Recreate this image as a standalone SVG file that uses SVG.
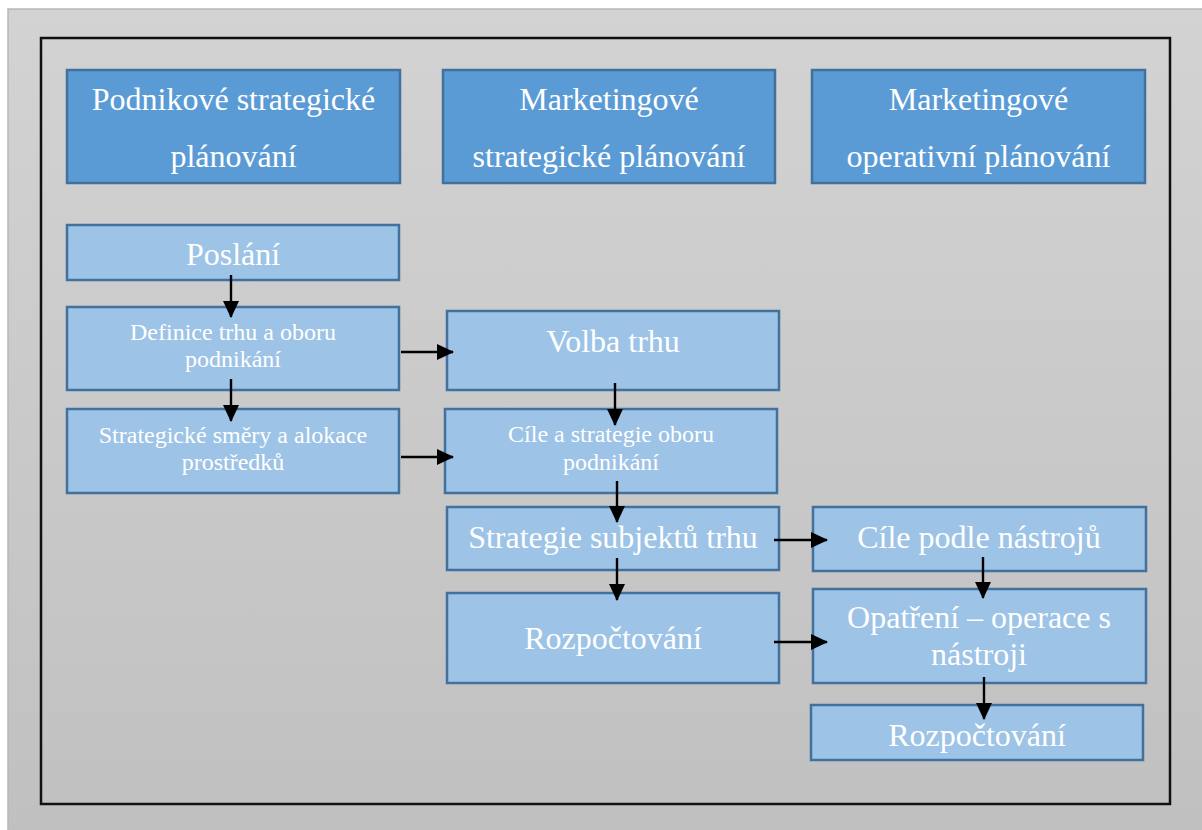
<svg xmlns="http://www.w3.org/2000/svg" width="1202" height="830" viewBox="0 0 1202 830">
<defs>
<linearGradient id="bg" x1="0" y1="0" x2="0" y2="1">
<stop offset="0" stop-color="#d3d3d3"/>
<stop offset="1" stop-color="#c0c0c0"/>
</linearGradient>
<marker id="ah" markerUnits="userSpaceOnUse" markerWidth="17" markerHeight="16" viewBox="0 0 17 16" refX="16" refY="8" orient="auto">
<path d="M0,0 L17,8 L0,16 Z" fill="#000"/>
</marker>
<clipPath id="clipR"><rect x="812" y="706" width="330" height="53"/></clipPath>
<style>
.hdr{fill:#5b9bd5;stroke:#41719c;stroke-width:2.5}
.box{fill:#9dc3e6;stroke:#41719c;stroke-width:2.5}
.t{font-family:"Liberation Serif","Times New Roman",serif;fill:#fff;text-anchor:middle}
.big{font-size:32px}
.sm{font-size:24px}
.c{stroke:#000;stroke-width:2.4;fill:none;marker-end:url(#ah)}
</style>
</defs>
<rect x="0" y="0" width="1202" height="830" fill="#fff"/>
<rect x="8" y="9" width="1200" height="830" fill="url(#bg)" stroke="#b8b8b8" stroke-width="1.5"/>
<rect x="41" y="38" width="1129" height="766" fill="none" stroke="#111" stroke-width="2.5"/>

<g id="h1"><rect class="hdr" x="67" y="70" width="333" height="113"/>
<text class="t big" x="233.5" y="110">Podnikové strategické</text>
<text class="t big" x="233.5" y="167">plánování</text></g>
<g id="h2"><rect class="hdr" x="443" y="70" width="332" height="113"/>
<text class="t big" x="609" y="110">Marketingové</text>
<text class="t big" x="609" y="167">strategické plánování</text></g>
<g id="h3"><rect class="hdr" x="812" y="70" width="333" height="113"/>
<text class="t big" x="978.5" y="110">Marketingové</text>
<text class="t big" x="978.5" y="167">operativní plánování</text></g>

<g id="poslani"><rect class="box" x="67" y="225" width="332" height="55"/>
<text class="t big" x="233" y="265">Poslání</text></g>
<g id="definice"><rect class="box" x="67" y="307" width="332" height="83"/>
<text class="t sm" x="233" y="340">Definice trhu a oboru</text>
<text class="t sm" x="233" y="367">podnikání</text></g>
<g id="smery"><rect class="box" x="67" y="409" width="332" height="84"/>
<text class="t sm" x="233" y="443">Strategické směry a alokace</text>
<text class="t sm" x="233" y="470">prostředků</text></g>

<g id="volba"><rect class="box" x="447" y="311" width="332" height="79"/>
<text class="t big" x="613" y="352">Volba trhu</text></g>
<g id="cile"><rect class="box" x="445" y="409" width="332" height="84"/>
<text class="t sm" x="611" y="442">Cíle a strategie oboru</text>
<text class="t sm" x="611" y="470">podnikání</text></g>
<g id="subjekty"><rect class="box" x="447" y="507" width="332" height="63"/>
<text class="t big" x="613" y="548">Strategie subjektů trhu</text></g>
<g id="rozp1"><rect class="box" x="447" y="593" width="332" height="90"/>
<text class="t big" x="613" y="649">Rozpočtování</text></g>

<g id="cilenastr"><rect class="box" x="813" y="507" width="333" height="64"/>
<text class="t big" x="979" y="548">Cíle podle nástrojů</text></g>
<g id="opatreni"><rect class="box" x="813" y="589" width="333" height="94"/>
<text class="t big" x="979" y="628">Opatření – operace s</text>
<text class="t big" x="979" y="665">nástroji</text></g>
<g id="rozp2"><rect class="box" x="811" y="705" width="332" height="55"/>
<text class="t big" x="977" y="746" clip-path="url(#clipR)">Rozpočtování</text></g>

<g id="connectors">
<line class="c" x1="231" y1="275" x2="231" y2="317"/>
<line class="c" x1="231" y1="379" x2="231" y2="421"/>
<line class="c" x1="401" y1="352" x2="453" y2="352"/>
<line class="c" x1="401" y1="457" x2="453" y2="457"/>
<line class="c" x1="615" y1="383" x2="615" y2="425"/>
<line class="c" x1="617" y1="481" x2="617" y2="522"/>
<line class="c" x1="617" y1="558" x2="617" y2="600"/>
<line class="c" x1="774" y1="540" x2="827" y2="540"/>
<line class="c" x1="774" y1="642" x2="827" y2="642"/>
<line class="c" x1="983" y1="557" x2="983" y2="598"/>
<line class="c" x1="984" y1="677" x2="984" y2="719"/>
</g>
</svg>
